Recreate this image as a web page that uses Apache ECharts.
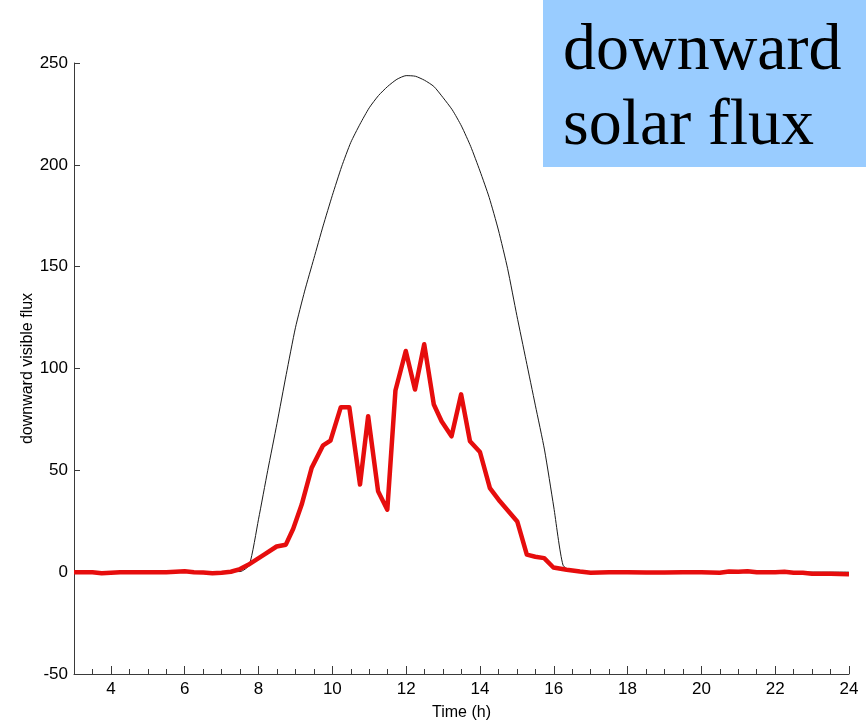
<!DOCTYPE html>
<html>
<head>
<meta charset="utf-8">
<script src="https://cdn.jsdelivr.net/npm/echarts@6/dist/echarts.min.js"></script>
<style>
  html, body { margin: 0; padding: 0; background: #fff; }
  #chart { width: 866px; height: 720px; }
</style>
</head>
<body>
<div id="chart"></div>
<script>
// Observed downward visible flux (red), hours of day and values
const observedTimes = [3.0, 3.5, 3.75, 4.0, 4.25, 4.5, 5.0, 5.5, 6.0, 6.25, 6.5, 6.75, 7.0, 7.25, 7.5,
  7.72, 8.12, 8.49, 8.74, 8.94, 9.17, 9.44, 9.75, 9.95, 10.23, 10.46, 10.75, 10.97, 11.24, 11.49,
  11.71, 11.99, 12.24, 12.49, 12.75, 12.96, 13.23, 13.49, 13.73, 14.0, 14.27, 14.54, 15.01, 15.27,
  15.5, 15.74, 15.99, 16.35, 16.71, 17.0, 17.25, 17.5, 18.0, 18.5, 19.0, 19.5, 20.0, 20.5, 20.75,
  21.0, 21.25, 21.5, 22.0, 22.25, 22.5, 22.75, 23.0, 23.5, 24.0];
const observedFlux = [0, 0, -0.5, -0.3, 0, 0, 0, 0, 0.4, 0, -0.2, -0.5, -0.3, 0.2, 1.5,
  3.6, 8.2, 12.6, 13.5, 21.3, 33.2, 51.2, 62.3, 64.6, 81.0, 81.0, 43.0, 76.6, 39.7, 30.7,
  89.2, 108.6, 89.7, 111.9, 82.3, 74.1, 66.7, 87.3, 64.3, 59.0, 41.3, 34.8, 24.9, 8.6,
  7.6, 6.9, 2.3, 1.2, 0.3, -0.3, -0.2, 0, 0, -0.2, -0.2, 0, 0, -0.3, 0.3,
  0.2, 0.5, 0, 0, 0.2, -0.3, -0.3, -0.8, -0.8, -1.0];

// Clear-sky downward flux (black), hours of day and values
const clearTimes = [3.0, 7.5, 7.75, 8.0, 8.25, 8.5, 8.75, 9.0, 9.25, 9.5, 9.75, 10.0, 10.25, 10.5,
  10.75, 11.0, 11.25, 11.5, 11.75, 12.0, 12.25, 12.5, 12.75, 13.0, 13.25, 13.5, 13.75, 14.0,
  14.25, 14.5, 14.75, 15.0, 15.25, 15.5, 15.75, 16.0, 16.25, 16.5, 24.0];
const clearFlux = [0, 0.3, 3.5, 26, 50, 73, 97, 120, 138, 154, 170, 185, 199, 211,
  220, 228, 234, 238.5, 242, 243.8, 243.5, 241.5, 238.5, 233, 227, 219, 209, 197,
  184, 168, 149, 126, 104, 82, 60, 32, 3.5, 0.4, 0];

const yTicks = [-50, 0, 50, 100, 150, 200, 250];
const xTicks = [4, 6, 8, 10, 12, 14, 16, 18, 20, 22, 24];

const pairs = (xs, ys) => xs.map((x, i) => [x, ys[i]]);

const chart = echarts.init(document.getElementById('chart'));
const axisColor = '#3a3a3a';
const font = 'Arial, "Liberation Sans", Helvetica, sans-serif';

chart.setOption({
  animation: false,
  backgroundColor: '#ffffff',
  grid: { left: 74, right: 17, top: 63, bottom: 46, containLabel: false, outerBoundsMode: 'none' },
  xAxis: [
    {
      // half-hour ticks, labels every 2 h
      type: 'value',
      min: 3, max: 24, interval: 0.5,
      position: 'bottom',
      name: 'Time (h)',
      nameLocation: 'middle',
      nameGap: 31,
      nameMoveOverlap: false,
      nameTextStyle: { fontFamily: font, fontSize: 16, color: '#000' },
      axisLine: { show: true, onZero: false, lineStyle: { color: axisColor, width: 1 } },
      axisTick: { show: true, inside: true, length: 5, lineStyle: { color: axisColor } },
      axisLabel: { fontFamily: font, fontSize: 17, color: '#000', margin: 7,
        customValues: xTicks },
      splitLine: { show: false }
    },
    {
      // longer ticks at the labelled hours
      type: 'value',
      min: 3, max: 24,
      position: 'bottom',
      axisLine: { show: false, onZero: false },
      axisTick: { show: true, inside: true, length: 8, lineStyle: { color: axisColor },
        customValues: xTicks },
      axisLabel: { show: false },
      splitLine: { show: false }
    }
  ],
  yAxis: {
    type: 'value',
    min: -50, max: 250, interval: 50,
    name: 'downward visible flux',
    nameLocation: 'middle',
    nameGap: 38,
    nameMoveOverlap: false,
    nameTextStyle: { fontFamily: font, fontSize: 16, color: '#000' },
    axisLine: { show: true, lineStyle: { color: axisColor, width: 1 } },
    axisTick: { show: true, inside: true, length: 6, lineStyle: { color: axisColor } },
    axisLabel: { fontFamily: font, fontSize: 17, color: '#000', margin: 6,
      customValues: yTicks },
    splitLine: { show: false }
  },
  series: [
    {
      name: 'clear sky',
      type: 'line',
      xAxisIndex: 0,
      data: pairs(clearTimes, clearFlux),
      showSymbol: false,
      smooth: 0.2,
      lineStyle: { color: '#1a1a1a', width: 1 },
      z: 2
    },
    {
      name: 'observed',
      type: 'line',
      xAxisIndex: 0,
      data: pairs(observedTimes, observedFlux),
      showSymbol: false,
      lineStyle: { color: '#e60d0d', width: 4.5, join: 'round' },
      z: 3
    }
  ],
  graphic: [
    {
      type: 'rect',
      left: 543, top: 0,
      shape: { width: 323, height: 167 },
      style: { fill: '#99ccff' },
      z: 10
    },
    {
      type: 'text',
      left: 563, top: 14,
      style: {
        text: 'downward\nsolar flux',
        fontFamily: '"Liberation Serif", "Times New Roman", serif',
        fontSize: 66,
        lineHeight: 75,
        fill: '#000'
      },
      z: 11
    }
  ]
});
</script>
</body>
</html>
